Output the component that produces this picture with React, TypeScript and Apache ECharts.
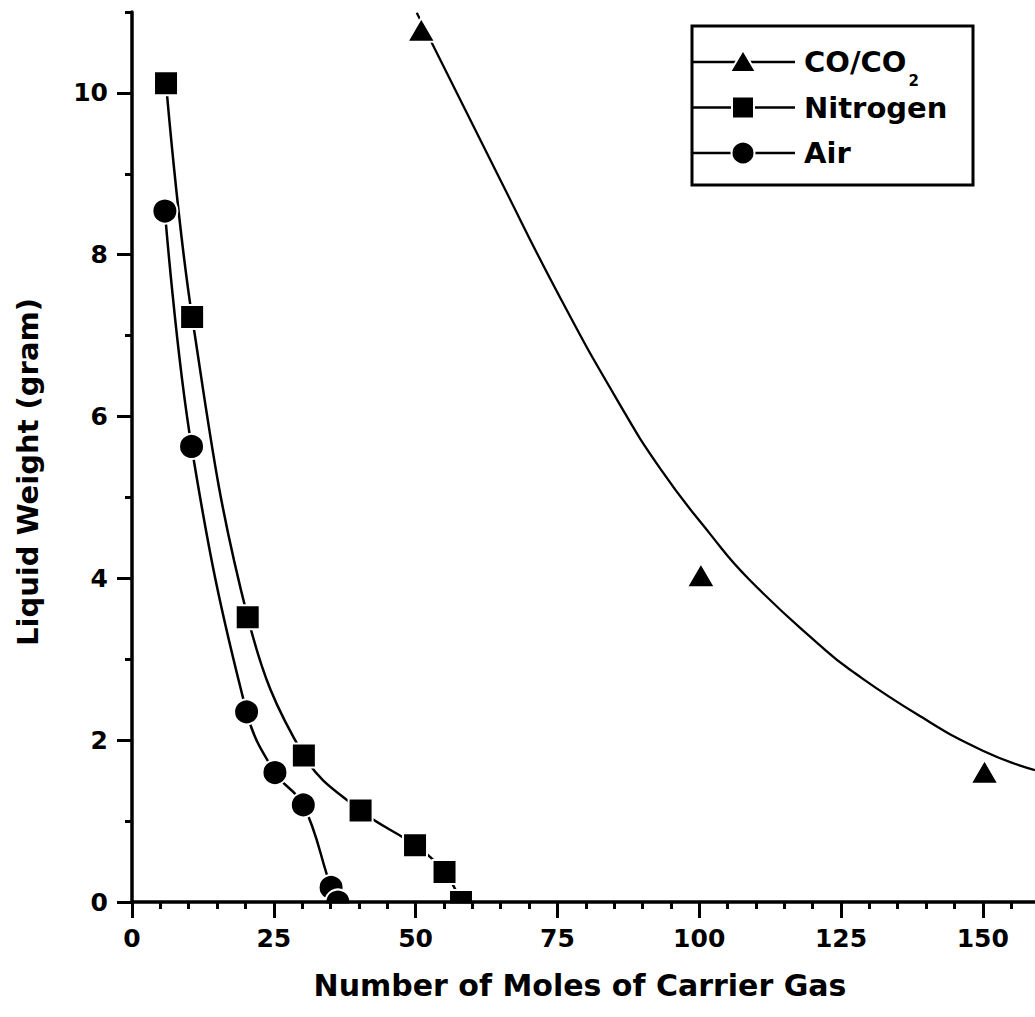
import { useEffect, useRef } from "react";
import * as echarts from "echarts";

// Measured samples: liquid weight (g) vs. moles of carrier gas
const nitrogenMoles = [6.0, 10.6, 20.4, 30.3, 40.3, 49.9, 55.1, 58.0];
const nitrogenWeight = [10.12, 7.23, 3.52, 1.81, 1.13, 0.7, 0.37, 0.0];

const airMoles = [5.8, 10.5, 20.2, 25.2, 30.2, 35.1, 36.3];
const airWeight = [8.54, 5.63, 2.35, 1.6, 1.2, 0.18, 0.0];

const coMoles = [51.0, 100.3, 150.3];
const coWeight = [10.78, 4.04, 1.61];

// Fitted decay curve drawn through the CO/CO2 region
const coFitMoles = [50.2, 64.9, 75.4, 85.5, 93.1, 101.9, 108.9, 121.8, 126.6, 138.4, 150.0, 159.2];
const coFitWeight = [10.99, 8.93, 7.48, 6.21, 5.36, 4.55, 3.98, 3.14, 2.87, 2.32, 1.87, 1.63];

// Axis ticks
const xMajorTicks = [0, 25, 50, 75, 100, 125, 150];
const xMinorTicks = [5, 10, 15, 20, 30, 35, 40, 45, 55, 60, 65, 70, 80, 85, 90, 95, 105, 110, 115, 120, 130, 135, 140, 145, 155];
const yMajorTicks = [0, 2, 4, 6, 8, 10];
const yMinorTicks = [1, 3, 5, 7, 9, 11];

const xTitle = "Number of Moles of Carrier Gas";
const yTitle = "Liquid Weight (gram)";
const legendLabels = ["CO/CO", "Nitrogen", "Air"];
const legendSub = "2";

const FONT = '"DejaVu Sans", "Liberation Sans", Arial, sans-serif';
const X_MAX = 159.2;
const Y_MAX = 11;

function pairs(xs: number[], ys: number[]) {
  return xs.map((x, i) => [x, ys[i]]);
}

function measure(text: string, font: string): number {
  const c = document.createElement("canvas").getContext("2d");
  if (!c) return text.length * 18;
  c.font = font;
  return c.measureText(text).width;
}

export default function App() {
  const ref = useRef<HTMLDivElement>(null);

  useEffect(() => {
    if (!ref.current) return;
    const chart = echarts.init(ref.current, undefined, { renderer: "svg" });

    const legendFont = `bold 29px ${FONT}`;
    const legendX = 692;
    const legendY = 26;
    const rowY = [62, 107.5, 153];
    const symX = 743;
    const textX = 804;
    const coWidth = measure(legendLabels[0], legendFont);

    const legendEls: any[] = [
      {
        type: "rect",
        shape: { x: legendX, y: legendY, width: 281, height: 159 },
        style: { fill: "#fff", stroke: "#000", lineWidth: 3 },
        z: 10,
      },
    ];
    rowY.forEach((y, i) => {
      legendEls.push({
        type: "line",
        shape: { x1: legendX, y1: y, x2: 795, y2: y },
        style: { stroke: "#000", lineWidth: 2.5 },
        z: 11,
      });
      if (i === 0) {
        legendEls.push({
          type: "polygon",
          shape: { points: [[symX - 13, y + 10], [symX + 13, y + 10], [symX, y - 12]] },
          style: { fill: "#000", stroke: "#fff", lineWidth: 2, lineJoin: "round" },
          z: 12,
        });
      } else if (i === 1) {
        legendEls.push({
          type: "rect",
          shape: { x: symX - 11, y: y - 11, width: 22, height: 22 },
          style: { fill: "#000", stroke: "#fff", lineWidth: 2 },
          z: 12,
        });
      } else {
        legendEls.push({
          type: "circle",
          shape: { cx: symX, cy: y, r: 11.5 },
          style: { fill: "#000", stroke: "#fff", lineWidth: 2 },
          z: 12,
        });
      }
      legendEls.push({
        type: "text",
        x: textX,
        y: y,
        style: {
          text: legendLabels[i],
          font: legendFont,
          fill: "#000",
          align: "left",
          verticalAlign: "middle",
          textAlign: "left",
          textVerticalAlign: "middle",
        },
        z: 12,
      });
    });
    legendEls.push({
      type: "text",
      x: textX + coWidth + 2,
      y: rowY[0] + 19,
      style: {
        text: legendSub,
        font: `bold 15px ${FONT}`,
        fill: "#000",
        align: "left",
        verticalAlign: "middle",
        textAlign: "left",
        textVerticalAlign: "middle",
      },
      z: 12,
    });

    const tickLabel = {
      color: "#000",
      fontFamily: FONT,
      fontWeight: "bold",
      fontSize: 25,
    };

    const option: any = {
      animation: false,
      backgroundColor: "#fff",
      grid: {
        left: 132,
        top: 12,
        width: 903,
        height: 890,
        containLabel: false,
        outerBoundsMode: "none",
      },
      xAxis: [
        {
          type: "value",
          min: 0,
          max: X_MAX,
          interval: 25,
          position: "bottom",
          axisLine: { show: true, onZero: false, lineStyle: { color: "#000", width: 3.5 } },
          axisTick: { show: true, length: 16, customValues: xMajorTicks, lineStyle: { color: "#000", width: 3 } },
          axisLabel: { ...tickLabel, margin: 24, customValues: xMajorTicks },
          splitLine: { show: false },
          z: 5,
        },
        {
          type: "value",
          min: 0,
          max: X_MAX,
          interval: 5,
          position: "bottom",
          axisLine: { show: false },
          axisTick: { show: true, length: 7, customValues: xMinorTicks, lineStyle: { color: "#000", width: 3 } },
          axisLabel: { show: false },
          splitLine: { show: false },
          z: 5,
        },
      ],
      yAxis: [
        {
          type: "value",
          min: 0,
          max: Y_MAX,
          interval: 1,
          position: "left",
          axisLine: { show: true, onZero: false, lineStyle: { color: "#000", width: 3.5 } },
          axisTick: { show: true, length: 15, customValues: yMajorTicks, lineStyle: { color: "#000", width: 3 } },
          axisLabel: { ...tickLabel, margin: 24, customValues: yMajorTicks },
          splitLine: { show: false },
          z: 5,
        },
        {
          type: "value",
          min: 0,
          max: Y_MAX,
          interval: 1,
          position: "left",
          axisLine: { show: false },
          axisTick: { show: true, length: 7, customValues: yMinorTicks, lineStyle: { color: "#000", width: 3 } },
          axisLabel: { show: false },
          splitLine: { show: false },
          z: 5,
        },
      ],
      series: [
        {
          name: "CO/CO2 fit",
          type: "line",
          data: pairs(coFitMoles, coFitWeight),
          smooth: 0.5,
          symbol: "none",
          lineStyle: { color: "#000", width: 2.3 },
          clip: true,
          silent: true,
          z: 2,
        },
        {
          name: "CO/CO2",
          type: "scatter",
          data: pairs(coMoles, coWeight),
          symbol: "triangle",
          symbolSize: [28, 24],
          itemStyle: { color: "#000", borderColor: "#fff", borderWidth: 2, opacity: 1 },
          silent: true,
          z: 3,
        },
        {
          name: "Nitrogen",
          type: "line",
          data: pairs(nitrogenMoles, nitrogenWeight),
          smooth: 0.4,
          symbol: "rect",
          symbolSize: 24,
          itemStyle: { color: "#000", borderColor: "#fff", borderWidth: 2 },
          lineStyle: { color: "#000", width: 2.5 },
          clip: true,
          silent: true,
          z: 3,
        },
        {
          name: "Air",
          type: "line",
          data: pairs(airMoles, airWeight),
          smooth: 0.4,
          symbol: "circle",
          symbolSize: 25,
          itemStyle: { color: "#000", borderColor: "#fff", borderWidth: 2 },
          lineStyle: { color: "#000", width: 2.5 },
          clip: true,
          silent: true,
          z: 3,
        },
      ],
      graphic: [
        // white band below the x-axis so markers sitting on zero are cut at the axis
        {
          type: "rect",
          shape: { x: 134, y: 903.5, width: 901, height: 30 },
          style: { fill: "#fff" },
          z: 4,
          silent: true,
        },
        {
          type: "text",
          x: 28,
          y: 472,
          rotation: Math.PI / 2,
          style: {
            text: yTitle,
            font: `bold 29px ${FONT}`,
            fill: "#000",
            align: "center",
            verticalAlign: "middle",
            textAlign: "center",
            textVerticalAlign: "middle",
          },
        },
        {
          type: "text",
          x: 580,
          y: 985,
          style: {
            text: xTitle,
            font: `bold 30px ${FONT}`,
            fill: "#000",
            align: "center",
            verticalAlign: "middle",
            textAlign: "center",
            textVerticalAlign: "middle",
          },
        },
        ...legendEls,
      ],
    };

    chart.setOption(option);
    return () => chart.dispose();
  }, []);

  return (
    <div
      ref={ref}
      style={{ position: "absolute", left: 0, top: 0, width: 1035, height: 1017, background: "#fff" }}
    />
  );
}
